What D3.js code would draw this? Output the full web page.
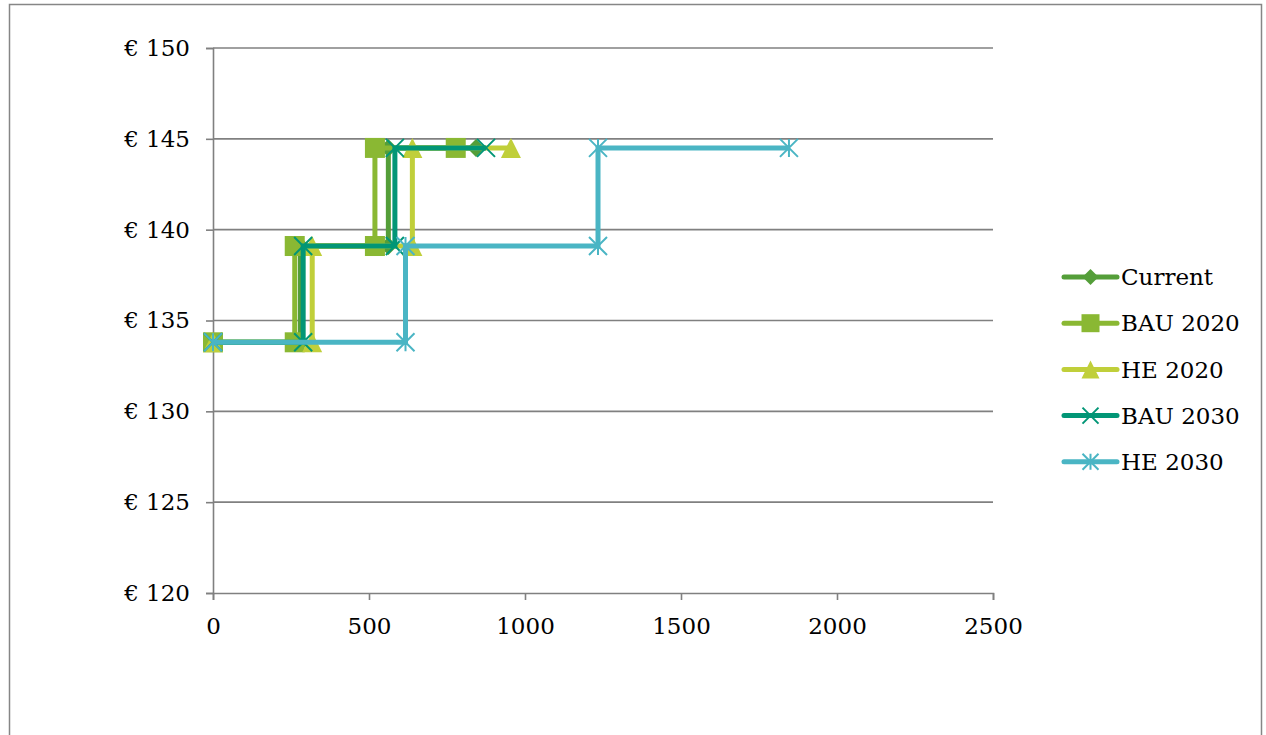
<!DOCTYPE html>
<html>
<head>
<meta charset="utf-8">
<script src="https://cdn.jsdelivr.net/npm/d3@7"></script>
<style>
  html, body { margin: 0; padding: 0; background: #fff; }
  svg { display: block; }
  text { font-family: "DejaVu Serif", "Liberation Serif", serif; fill: #000; }
</style>
</head>
<body>
<svg id="chart" width="1266" height="735"></svg>
<script>
// Price levels of the three steps (shared by every scenario)
const levels = [133.8, 139.1, 144.5];

// Cumulative quantity at which each scenario moves up a step, plus its end point
const seriesNames = ["Current", "BAU 2020", "HE 2020", "BAU 2030", "HE 2030"];
const currentBreaks = [0, 280, 562, 843];
const bau2020Breaks = [0, 262, 519, 778];
const he2020Breaks  = [0, 318, 639, 955];
const bau2030Breaks = [0, 289, 583, 875];
const he2030Breaks  = [0, 617, 1234, 1846];

const xTicks = [0, 500, 1000, 1500, 2000, 2500];
const yTicks = [120, 125, 130, 135, 140, 145, 150];

const colors = ["#549E39", "#8AB833", "#C0CF3A", "#029676", "#4AB5C4"];
const symbols = ["diamond", "square", "triangle", "cross", "asterisk"];

// Turn the break list into a step path: flat run, then vertical rise
function stepPoints(breaks) {
  const pts = [[breaks[0], levels[0]]];
  for (let i = 1; i < breaks.length; i++) {
    pts.push([breaks[i], levels[i - 1]]);
    if (i < levels.length) pts.push([breaks[i], levels[i]]);
  }
  return pts;
}

const series = [currentBreaks, bau2020Breaks, he2020Breaks, bau2030Breaks, he2030Breaks]
  .map((b, i) => ({ name: seriesNames[i], color: colors[i], symbol: symbols[i], points: stepPoints(b) }));

const svg = d3.select("#chart");
const margin = { left: 213, right: 273, top: 48, bottom: 142 };
const W = 1266, H = 735;
const fontSize = 23;

const x = d3.scaleLinear().domain([0, 2500]).range([margin.left, W - margin.right]);
const y = d3.scaleLinear().domain([120, 150]).range([H - margin.bottom, margin.top]);

// Outer chart frame (bottom edge falls below the visible area)
svg.append("rect")
  .attr("x", 9.5).attr("y", 4.5)
  .attr("width", 1252).attr("height", 800)
  .attr("fill", "none").attr("stroke", "#868686").attr("stroke-width", 1.5);

// Horizontal gridlines
svg.append("g").selectAll("line")
  .data(yTicks.filter(d => d !== 120))
  .join("line")
  .attr("x1", x(0)).attr("x2", x(2500))
  .attr("y1", d => y(d)).attr("y2", d => y(d))
  .attr("stroke", "#808080").attr("stroke-width", 1.6);

// Y axis
const yAxis = svg.append("g")
  .attr("transform", `translate(${x(0)},0)`)
  .call(d3.axisLeft(y).tickValues(yTicks).tickSize(7).tickPadding(16)
    .tickFormat(d => "€ " + d));
yAxis.select(".domain").attr("stroke", "#808080").attr("stroke-width", 1.6);
yAxis.selectAll(".tick line").attr("stroke", "#808080").attr("stroke-width", 1.6);
yAxis.selectAll(".tick text")
  .attr("font-family", "DejaVu Serif, serif").attr("font-size", fontSize).attr("fill", "#000");

// X axis
const xAxis = svg.append("g")
  .attr("transform", `translate(0,${y(120)})`)
  .call(d3.axisBottom(x).tickValues(xTicks).tickSize(7).tickPadding(18)
    .tickFormat(d3.format("d")));
xAxis.select(".domain").attr("stroke", "#808080").attr("stroke-width", 1.6);
xAxis.selectAll(".tick line").attr("stroke", "#808080").attr("stroke-width", 1.6);
xAxis.selectAll(".tick text")
  .attr("font-family", "DejaVu Serif, serif").attr("font-size", fontSize).attr("fill", "#000");

// Marker drawing
function drawMarker(g, type, color, cx, cy, s) {
  const h = s / 2;
  if (type === "diamond") {
    g.append("path").attr("d", `M${cx},${cy - h}L${cx + h},${cy}L${cx},${cy + h}L${cx - h},${cy}Z`).attr("fill", color);
  } else if (type === "square") {
    g.append("rect").attr("x", cx - h).attr("y", cy - h).attr("width", s).attr("height", s).attr("fill", color);
  } else if (type === "triangle") {
    g.append("path").attr("d", `M${cx},${cy - h}L${cx + h},${cy + h}L${cx - h},${cy + h}Z`).attr("fill", color);
  } else if (type === "cross") {
    g.append("path").attr("d", `M${cx - h},${cy - h}L${cx + h},${cy + h}M${cx - h},${cy + h}L${cx + h},${cy - h}`)
      .attr("stroke", color).attr("stroke-width", 2).attr("fill", "none");
  } else if (type === "asterisk") {
    g.append("path").attr("d", `M${cx - h},${cy - h}L${cx + h},${cy + h}M${cx - h},${cy + h}L${cx + h},${cy - h}M${cx},${cy - h}L${cx},${cy + h}`)
      .attr("stroke", color).attr("stroke-width", 2).attr("fill", "none");
  }
}

const markerSize = { diamond: 18, square: 20, triangle: 20, cross: 18, asterisk: 18 };

const line = d3.line().x(d => x(d[0])).y(d => y(d[1]));

series.forEach(s => {
  const g = svg.append("g");
  g.append("path").datum(s.points)
    .attr("d", line)
    .attr("fill", "none").attr("stroke", s.color).attr("stroke-width", 5);
  s.points.forEach(p => drawMarker(g, s.symbol, s.color, x(p[0]), y(p[1]), markerSize[s.symbol]));
});

// Legend
const legend = svg.append("g");
series.forEach((s, i) => {
  const ly = 277 + i * 46.2;
  const g = legend.append("g");
  g.append("line").attr("x1", 1064).attr("x2", 1117).attr("y1", ly).attr("y2", ly)
    .attr("stroke", s.color).attr("stroke-width", 5).attr("stroke-linecap", "round");
  drawMarker(g, s.symbol, s.color, 1090.5, ly, markerSize[s.symbol] - 2);
  g.append("text").attr("x", 1121).attr("y", ly).attr("dy", "0.36em")
    .attr("font-size", fontSize).text(s.name);
});
</script>
</body>
</html>
